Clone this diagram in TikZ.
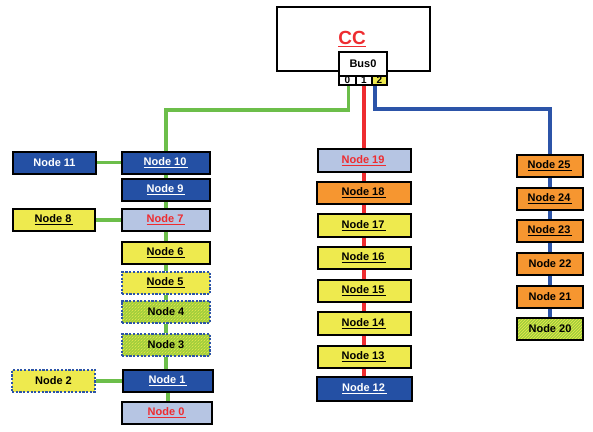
\documentclass[tikz,border=0pt]{standalone}
\usepackage{fontspec}
\setmainfont{Liberation Sans}
\usepackage{tikz}
\usetikzlibrary{patterns}
\definecolor{dkblue}{RGB}{36,80,164}
\definecolor{ltblue}{RGB}{182,197,227}
\definecolor{orng}{RGB}{246,150,48}
\definecolor{ylw}{RGB}{238,234,78}
\definecolor{grnfill}{RGB}{160,206,60}
\definecolor{grnline}{RGB}{108,190,74}
\definecolor{redline}{RGB}{238,44,48}
\definecolor{bluline}{RGB}{44,84,168}
\newcommand{\nlab}[1]{\underline{#1\,}}
\tikzstyle{box} = [rectangle, draw=black, line width=2pt, inner sep=0pt, minimum height=22pt, font=\bfseries\fontsize{11}{12}\selectfont]
\tikzstyle{dkb} = [box, fill=dkblue, text=white]
\tikzstyle{ltb} = [box, fill=ltblue, text=redline]
\tikzstyle{org} = [box, fill=orng]
\tikzstyle{yel} = [box, fill=ylw]
\tikzstyle{grn} = [box, preaction={fill=grnfill}, pattern=north east lines, pattern color=ylw]
\tikzstyle{dsh} = [draw=bluline, dash pattern=on 2.2pt off 1.5pt, line width=2pt]
\tikzstyle{gl} = [draw=grnline, line width=3.4pt]
\tikzstyle{rl} = [draw=redline, line width=3.4pt]
\tikzstyle{bl} = [draw=bluline, line width=3.4pt]
\tikzstyle{port} = [rectangle, draw=black, line width=1.5pt, inner sep=0pt, minimum height=9pt, font=\bfseries\fontsize{10}{10}\selectfont]

\begin{document}
\begin{tikzpicture}[x=1pt, y=-1pt]
\useasboundingbox (0,0) rectangle (593,431);
% controller
\node [rectangle, draw=black, line width=2pt, minimum width=153pt, minimum height=64pt] (CC) at (353.5,39) {};
\node [text=redline, font=\bfseries\fontsize{19}{20}\selectfont] (CCt) at (352,39) {\underline{CC}};
\node [rectangle, draw=black, fill=white, line width=2pt, minimum width=48pt, minimum height=24pt, font=\bfseries\fontsize{11}{12}\selectfont] (bus) at (363,64) {Bus0};
\node [port, fill=white, minimum width=17pt] (p0) at (347.5,80.5) {0};
\node [port, fill=white, minimum width=16pt] (p1) at (364,80.5) {1};
\node [port, fill=ylw, minimum width=15pt] (p2) at (379.5,80.5) {2};
% left branch
\node [dkb, minimum width=83pt] (n11) at (54.5,162.5) {Node 11};
\node [dkb, minimum width=88pt] (n10) at (166,162.5) {\nlab{Node 10}};
\node [dkb, minimum width=88pt] (n9) at (166,190) {\nlab{Node 9}};
\node [yel, minimum width=82pt] (n8) at (54,220) {\nlab{Node 8}};
\node [ltb, minimum width=88pt] (n7) at (166,220) {\nlab{Node 7}};
\node [yel, minimum width=88pt] (n6) at (166,253) {\nlab{Node 6}};
\node [yel, dsh, minimum width=88pt] (n5) at (166,283) {\nlab{Node 5}};
\node [grn, dsh, minimum width=88pt] (n4) at (166,311.5) {Node 4};
\node [grn, dsh, minimum width=88pt] (n3) at (166,345) {Node 3};
\node [yel, dsh, minimum width=83pt] (n2) at (53.5,381) {Node 2};
\node [dkb, minimum width=90pt] (n1) at (168,381) {\nlab{Node 1}};
\node [ltb, minimum width=90pt] (n0) at (167,413) {\nlab{Node 0}};
% middle branch
\node [ltb, minimum width=93pt, minimum height=23pt] (n19) at (364,160.5) {\nlab{Node 19}};
\node [org, minimum width=94pt] (n18) at (364,193) {\nlab{Node 18}};
\node [yel, minimum width=93pt, minimum height=23pt] (n17) at (364,225.5) {\nlab{Node 17}};
\node [yel, minimum width=93pt] (n16) at (364,258) {\nlab{Node 16}};
\node [yel, minimum width=93pt] (n15) at (364,291) {\nlab{Node 15}};
\node [yel, minimum width=93pt, minimum height=23pt] (n14) at (364,323.5) {\nlab{Node 14}};
\node [yel, minimum width=93pt] (n13) at (364,357) {\nlab{Node 13}};
\node [dkb, minimum width=95pt, minimum height=24pt] (n12) at (364.5,389) {\nlab{Node 12}};
% right branch
\node [org, minimum width=66pt] (n25) at (550,166) {\nlab{Node 25}};
\node [org, minimum width=66pt] (n24) at (550,198.5) {\nlab{Node 24}};
\node [org, minimum width=66pt] (n23) at (550,231) {\nlab{Node 23}};
\node [org, minimum width=66pt] (n22) at (550,264) {Node 22};
\node [org, minimum width=66pt] (n21) at (550,296.5) {Node 21};
\node [grn, minimum width=66pt] (n20) at (550,329) {Node 20};
% bus lines
\coordinate (gturn) at (348.5,110);
\coordinate (bturn) at (375,109);
\draw [gl] (gturn |- p0.south) -- (gturn) -| (n10.north);
\draw [rl] (p1.south) -- (n19.north);
\draw [bl] (bturn |- p2.south) -- (bturn) -| (n25.north);
% links
\draw [gl] (n11) -- (n10);
\draw [gl] (n8) -- (n7);
\draw [gl] (n2) -- (n1);
\foreach \a/\b in {n10/n9, n9/n7, n7/n6, n6/n5, n5/n4, n4/n3, n3/n1, n1/n0}
  \draw [gl] (\a.south) -- (\a.south |- \b.north);
\foreach \a/\b in {n19/n18, n18/n17, n17/n16, n16/n15, n15/n14, n14/n13, n13/n12}
  \draw [rl] (\a.south) -- (\a.south |- \b.north);
\foreach \a/\b in {n25/n24, n24/n23, n23/n22, n22/n21, n21/n20}
  \draw [bl] (\a.south) -- (\a.south |- \b.north);
\end{tikzpicture}
\end{document}
